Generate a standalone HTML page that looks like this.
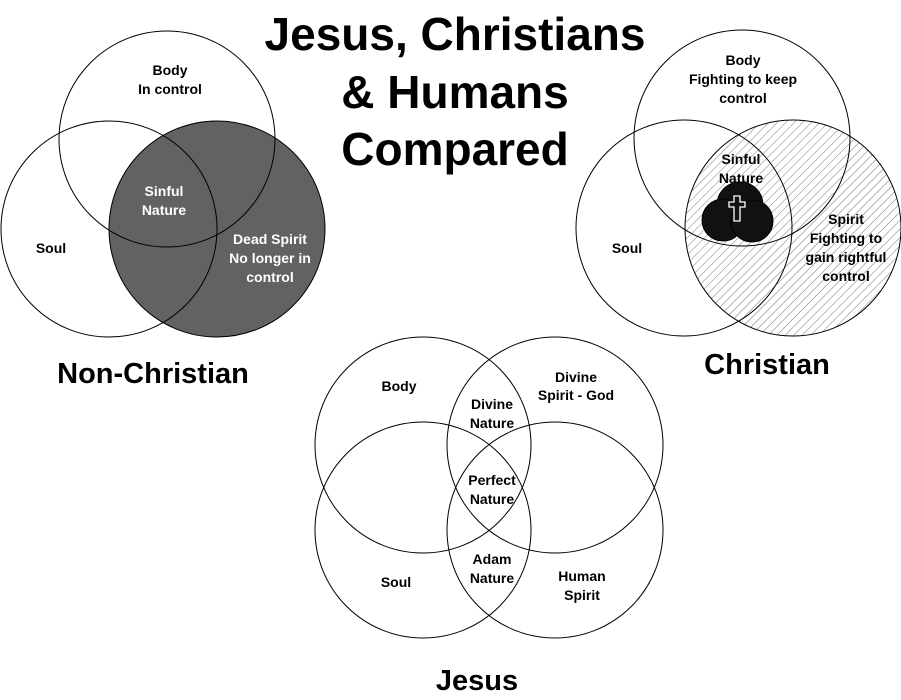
<!DOCTYPE html>
<html><head><meta charset="utf-8"><style>
html,body{margin:0;padding:0;background:#fff;}
svg{display:block;}
text{font-family:"Liberation Sans",Arial,sans-serif;font-weight:bold;text-anchor:middle;}
</style></head><body>
<svg width="901" height="700" viewBox="0 0 901 700" xmlns="http://www.w3.org/2000/svg">
<defs>
<pattern id="hatch" patternUnits="userSpaceOnUse" width="6" height="6" patternTransform="rotate(45)">
<line x1="0" y1="0" x2="0" y2="6" stroke="#555" stroke-width="0.8"/>
</pattern>
</defs>
<g fill="none" stroke="#000" stroke-width="1">
<circle cx="217" cy="229" r="108" fill="#626262"/>
<circle cx="167" cy="139" r="108"/>
<circle cx="109" cy="229" r="108"/>
<circle cx="793" cy="228" r="108" fill="url(#hatch)"/>
<circle cx="742" cy="138" r="108"/>
<circle cx="684" cy="228" r="108"/>
<circle cx="423" cy="445" r="108"/>
<circle cx="555" cy="445" r="108"/>
<circle cx="423" cy="530" r="108"/>
<circle cx="555" cy="530" r="108"/>
</g>
<g fill="#111" stroke="#000">
<circle cx="740" cy="205" r="23"/>
<circle cx="723" cy="220" r="21"/>
<circle cx="752" cy="221" r="21"/>
</g>
<path d="M734 196h6v6h5v5h-5v14h-6v-14h-5v-5h5z" fill="#111" stroke="#fff" stroke-width="1.3"/>

<g font-size="46" fill="#000">
<text x="455" y="50">Jesus, Christians</text>
<text x="455" y="108">&amp; Humans</text>
<text x="455" y="165">Compared</text>
</g>
<g font-size="29" fill="#000">
<text x="153" y="383">Non-Christian</text>
<text x="767" y="374">Christian</text>
<text x="477" y="690">Jesus</text>
</g>
<g font-size="14" fill="#000">
<text x="170" y="75">Body</text>
<text x="170" y="94">In control</text>
<text x="51" y="253">Soul</text>
<text x="743" y="65">Body</text>
<text x="743" y="84">Fighting to keep</text>
<text x="743" y="103">control</text>
<text x="627" y="253">Soul</text>
<text x="399" y="391">Body</text>
<text x="576" y="382">Divine</text>
<text x="576" y="400">Spirit - God</text>
<text x="492" y="409">Divine</text>
<text x="492" y="428">Nature</text>
<text x="492" y="485">Perfect</text>
<text x="492" y="504">Nature</text>
<text x="492" y="564">Adam</text>
<text x="492" y="583">Nature</text>
<text x="396" y="587">Soul</text>
<text x="582" y="581">Human</text>
<text x="582" y="600">Spirit</text>
<text x="741" y="164">Sinful</text>
<text x="741" y="183">Nature</text>
<text x="846" y="224">Spirit</text>
<text x="846" y="243">Fighting to</text>
<text x="846" y="262">gain rightful</text>
<text x="846" y="281">control</text>
</g>
<g font-size="14" fill="#fff">
<text x="164" y="196">Sinful</text>
<text x="164" y="215">Nature</text>
<text x="270" y="244">Dead Spirit</text>
<text x="270" y="263">No longer in</text>
<text x="270" y="282">control</text>
</g>
</svg>
</body></html>
